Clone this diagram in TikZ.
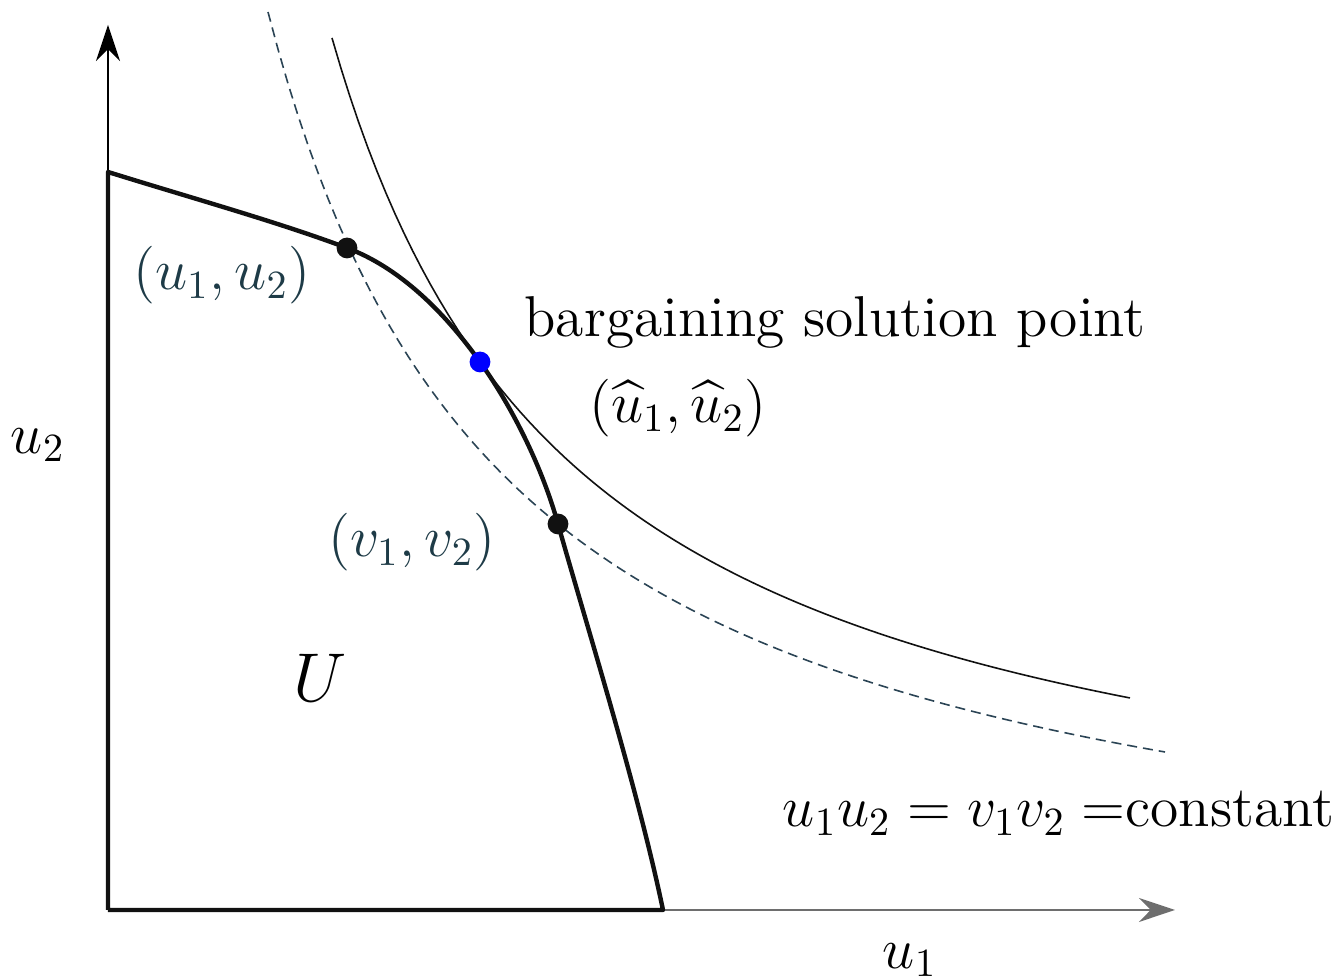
\documentclass[tikz,border=0pt]{standalone}
\usepackage{amsmath}
\usepackage{tikz}
\usetikzlibrary{arrows.meta,positioning}
\definecolor{nbink}  {HTML}{111111}
\definecolor{nbteal} {HTML}{1E3B47}
\definecolor{nbslate}{HTML}{2B4455}
\definecolor{nbgrey} {HTML}{6E6E6E}
\tikzset{
  nbaxis/.style={-{Stealth[length=9pt,width=6pt]}, line width=0.5pt},
  nbfront/.style={draw=nbink, line width=1.1pt, line join=round},
  nbdash/.style={draw=nbslate, line width=0.4pt, dash pattern=on 2.5pt off 1.5pt},
  nbiso/.style={draw=nbink, line width=0.4pt},
  nbdot/.style={circle, fill=nbink, inner sep=0pt, minimum size=5.2pt},
  nbsol/.style={nbdot, fill=blue},
  nblabel/.style={font=\Large, inner sep=0pt},
  nbpt/.style={nblabel, text=nbteal},
}
\begin{document}
\begin{tikzpicture}[x=0.25pt,y=0.25pt]
  \useasboundingbox (-108,-70) rectangle (1232,910);
  % axes
  \coordinate (o) at (0,0);
  \coordinate (ytop) at (0,885);
  \coordinate (xend) at (1067,0);
  \draw[nbaxis] (o) -- (ytop);
  \draw[nbaxis, draw=nbgrey] (o) -- (xend);
  % level curves u1 u2 = const
  \draw[nbdash] plot[domain=160:1057, samples=90] (\x, {-42+2278.56/((\x+82.4)/100)});
  \draw[nbiso] plot[domain=224:1022, samples=90] (\x, {8+2131.23/((\x+22.67)/100)});
  % feasible set U
  \coordinate (top) at (0,738);
  \coordinate (p) at (239,662);
  \coordinate (s) at (372,548);
  \coordinate (q) at (450,386);
  \coordinate (foot) at (555,0);
  \draw[nbfront] (o) -- (top)
    .. controls (80,713) and (170,688) .. (p)
    .. controls (290,643) and (335,600) .. (s)
    .. controls (400,509) and (432,450) .. (q)
    .. controls (480,280) and (530,120) .. (foot) -- (o);
  \node[nbdot] (pdot) at (p) {};
  \node[nbdot] (qdot) at (q) {};
  \node[nbsol] (sdot) at (s) {};
  % labels
  \node[nbpt] (plab) at (114,635) {$(u_1,u_2)$};
  \node[nbpt] (qlab) at (304,368) {$(v_1,v_2)$};
  \node[nblabel] (slab) at (727,588) {bargaining solution point};
  \node[nblabel] (shat) at (570,502) {$(\widehat{u}_1,\widehat{u}_2)$};
  \node[nblabel, font=\LARGE] (ulab) at (212,232) {$U$};
  \node[nblabel, anchor=east] (clab) at (1227,97) {$u_1u_2 = v_1v_2 =$constant};
  \node[nblabel] (y2) at (-70,465) {$u_2$};
  \node[nblabel] (x1) at (802,-50) {$u_1$};
\end{tikzpicture}
\end{document}
